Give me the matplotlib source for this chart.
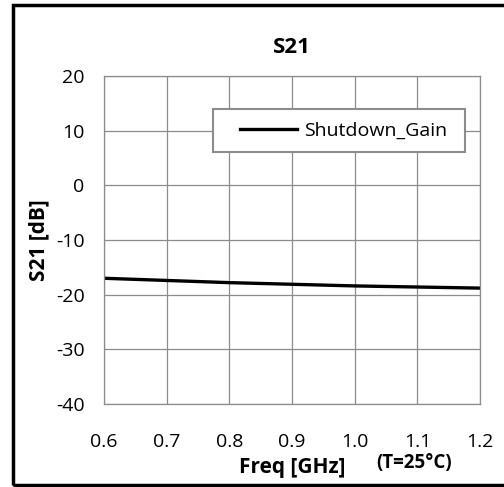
import matplotlib.pyplot as plt
from matplotlib.patches import Rectangle
from matplotlib.legend_handler import HandlerLine2D

# Data
freq_ghz = [0.6, 0.7, 0.8, 0.9, 1.0, 1.1, 1.2]
shutdown_gain = [-17.0, -17.4, -17.8, -18.1, -18.4, -18.6, -18.8]
x_ticks = [0.6, 0.7, 0.8, 0.9, 1.0, 1.1, 1.2]
y_ticks = [-40, -30, -20, -10, 0, 10, 20]

plt.rcParams["font.family"] = ["Open Sans", "DejaVu Sans"]
plt.rcParams["axes.unicode_minus"] = False

W, H = 504, 487
fig = plt.figure(figsize=(W / 100, H / 100), dpi=100)
ax = fig.add_axes([104 / W, 1 - 404 / H, (480 - 104) / W, (404 - 76) / H])

grid_col = "#8c8c8c"
line, = ax.plot(freq_ghz, shutdown_gain, color="black", lw=2.4, label="Shutdown_Gain")

ax.set_xlim(0.6, 1.2)
ax.set_ylim(-40, 20)
ax.set_xticks(x_ticks)
ax.set_xticklabels([f"{v:.1f}" for v in x_ticks])
ax.set_yticks(y_ticks)
ax.grid(True, color=grid_col, lw=0.9)
ax.tick_params(length=0, labelsize=14, pad=14)
ax.tick_params(axis="x", pad=21)
for s in ax.spines.values():
    s.set_color(grid_col)
    s.set_linewidth(0.9)

# titles / labels
ax.set_title("S21", fontsize=16, fontweight="bold", y=(404 - 47.5) / 328, va="center", pad=0)
ax.set_ylabel("S21 [dB]", fontsize=15, fontweight="bold", va="center")
ax.yaxis.set_label_coords((39 - 104) / 376, 0.5)
ax.set_xlabel("Freq [GHz]", fontsize=15, fontweight="bold", va="center")
ax.xaxis.set_label_coords(0.5, (404 - 467.5) / 328)
fig.text(414 / W, 1 - 463 / H, "(T=25°C)", fontsize=13.5, fontweight="bold",
         ha="center", va="center")

# legend box
leg = ax.legend(loc="upper left",
                bbox_to_anchor=((213 - 104) / 376, 1 - (109 - 76) / 328, (465 - 213) / 376, 0),
                mode="expand", fancybox=False, edgecolor=grid_col, framealpha=1,
                fontsize=14, handlelength=3.67, borderpad=0.65, handletextpad=0.36,
                borderaxespad=0, handler_map={line: HandlerLine2D(xpad=0.74)})
leg.get_frame().set_linewidth(1.5)

# outer frame around the whole chart
fig.patches.append(Rectangle((13 / W, 1 - 485 / H), 2, (485 - 5) / H,
                             transform=fig.transFigure, fill=False,
                             edgecolor="black", lw=2.5))

fig.savefig("out.png", dpi=100)
